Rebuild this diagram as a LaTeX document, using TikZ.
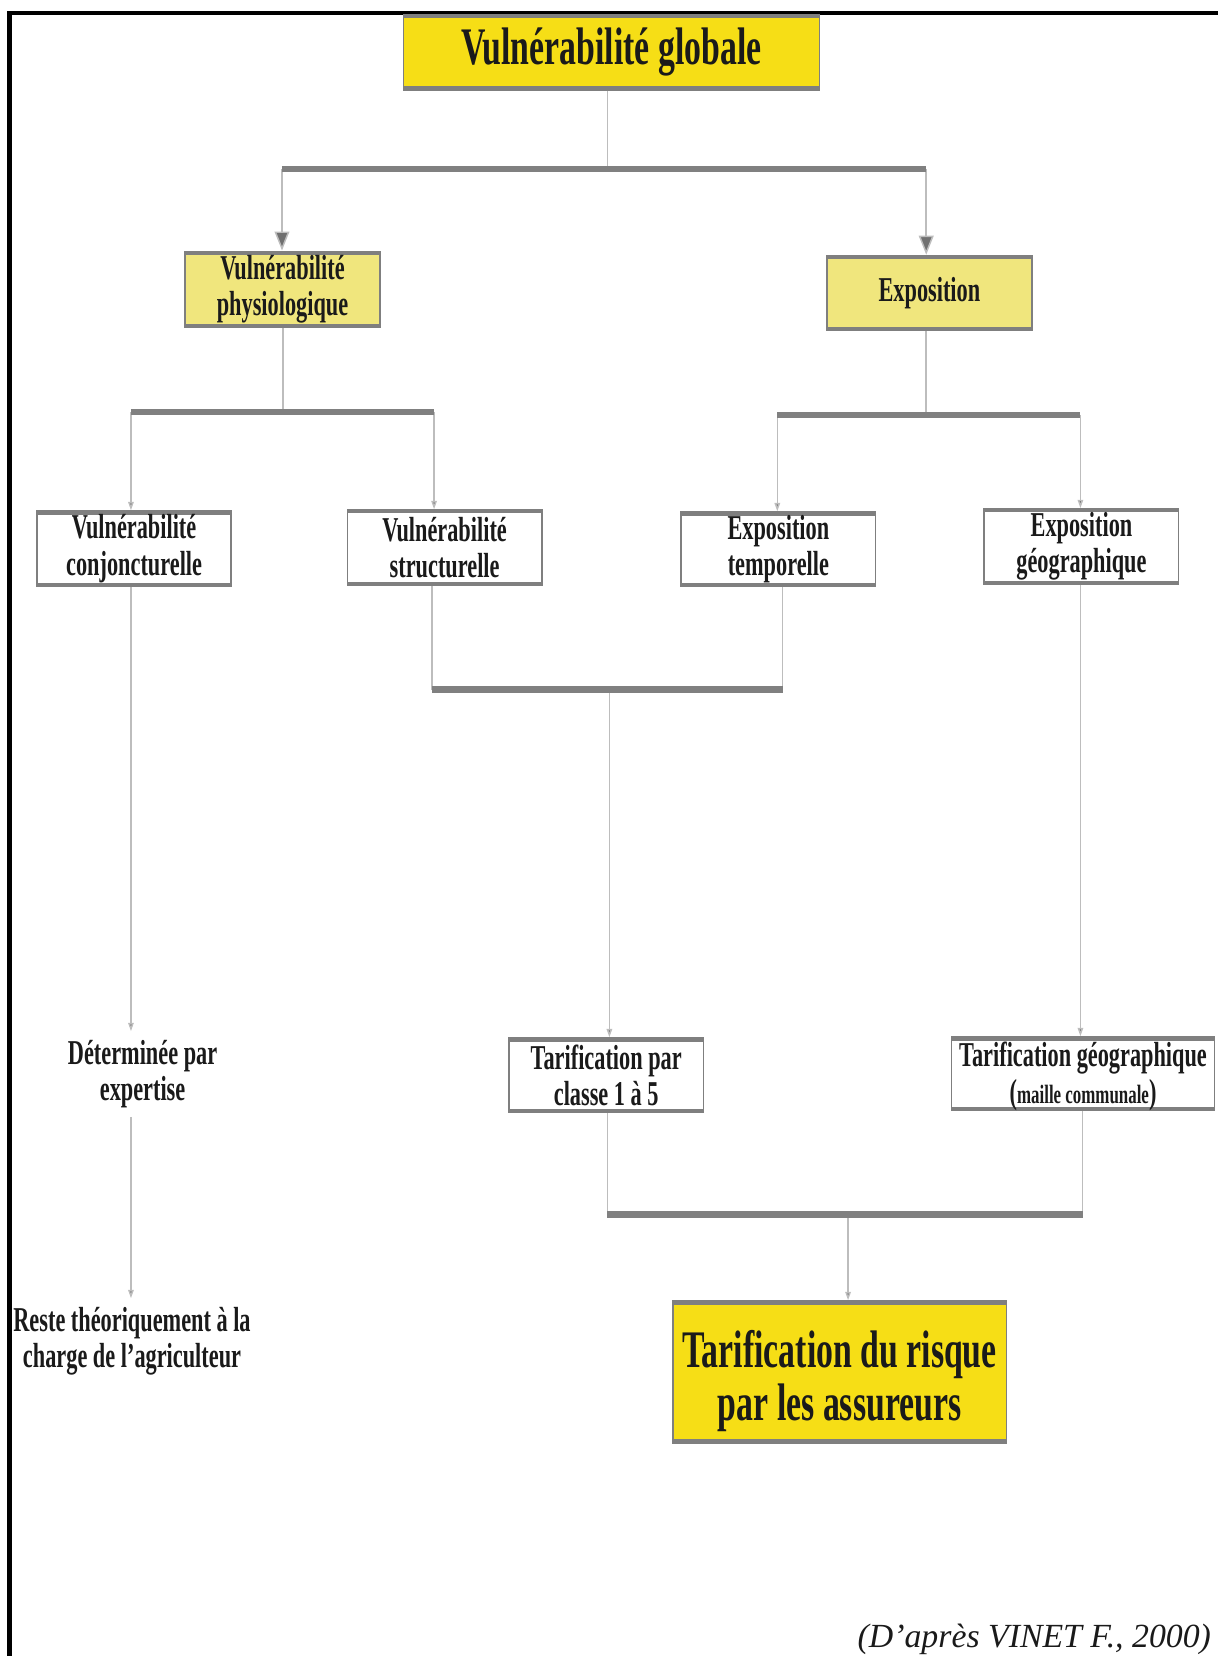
\documentclass[tikz,border=0pt]{standalone}
\usepackage{fontspec}
\setmainfont{Liberation Serif}[FakeStretch=0.64]
\newfontfamily\footfont{Liberation Serif}
\usetikzlibrary{arrows.meta}
\definecolor{ybright}{HTML}{F6DE16}
\definecolor{ylight}{HTML}{F0E67D}
\definecolor{bargray}{HTML}{808080}
\definecolor{linegray}{HTML}{BDBDBD}
\definecolor{boxgray}{HTML}{7F7F7F}
\definecolor{arrgray}{HTML}{707070}
\definecolor{txt}{HTML}{1A1A1A}
\newcommand\bigsz{\fontsize{25}{25}\selectfont}
\newcommand\midsz{\fontsize{16.5}{17.2}\selectfont}
\newcommand\smallsz{\fontsize{12.5}{12.5}\selectfont}
\newcommand\lowered[2]{\raisebox{#1}[\height][\depth]{\begin{tabular}{@{}c@{}}#2\end{tabular}}}
\begin{document}
\begin{tikzpicture}[x=0.5pt,y=-0.5pt,
  box/.style={draw=boxgray, line width=0.8pt, inner sep=0pt, align=center,
    font=\bfseries\midsz, text=txt,
    path picture={\draw[boxgray,line width=3.2pt]
      (path picture bounding box.north west)--(path picture bounding box.north east)
      (path picture bounding box.south west)--(path picture bounding box.south east);}},
  plain/.style={inner sep=4pt, align=center, font=\bfseries\midsz, text=txt},
  conn/.style={draw=linegray, line width=0.7pt},
  bar/.style={draw=bargray, line width=3pt},
  bigarrow/.style={-{Triangle[width=7pt,length=9pt,fill=arrgray]}},
  smallarrow/.style={-{Triangle[width=2.6pt,length=4pt,fill=arrgray]}}
]
\useasboundingbox (0,0) rectangle (1153,1568);
% frame
\draw[line width=1.9pt] (1153,12) -- (9,12) -- (9,1568);

% nodes
\node[box, fill=ybright, minimum width=197pt, minimum height=35.5pt, font=\bfseries\bigsz] (top) at (579,49.5) {Vulnérabilité globale};
\node[box, fill=ylight, minimum width=92.5pt, minimum height=36pt] (phys) at (267.5,274) {Vulnérabilité\\physiologique};
\node[box, fill=ylight, minimum width=97pt, minimum height=35.5pt] (expo) at (880,277.5) {Exposition};
\node[box, fill=white, minimum width=92pt, minimum height=35.5pt] (conj) at (127,519.5) {Vulnérabilité\\conjoncturelle};
\node[box, fill=white, minimum width=92pt, minimum height=35.5pt] (struct) at (421,518.5) {Vulnérabilité\\structurelle};
\node[box, fill=white, minimum width=92pt, minimum height=35pt] (temp) at (737,520) {Exposition\\temporelle};
\node[box, fill=white, minimum width=92pt, minimum height=35.5pt] (geo) at (1024,517.5) {Exposition\\géographique};
\node[box, fill=white, minimum width=92pt, minimum height=35pt] (classe) at (574,1018) {Tarification par\\classe 1 à 5};
\node[box, fill=white, minimum width=124.5pt, minimum height=34.5pt] (tgeo) at (1025.5,1016.5) {\lowered{-2pt}{Tarification géographique\\{\midsz(}{\smallsz maille communale}{\midsz)}}};
\node[box, fill=ybright, minimum width=158pt, minimum height=67pt, font=\bfseries\bigsz] (final) at (795,1299) {\lowered{-5.5pt}{Tarification du risque\\par les assureurs}};
\node[plain] (determ) at (135,1017) {Déterminée par\\expertise};
\node[plain] (reste) at (125,1270) {Reste théoriquement à la\\charge de l’agriculteur};
\node[anchor=east, inner sep=0pt, font=\footfont\itshape\fontsize{16}{16}\selectfont, text=txt] (src) at (1147,1552) {(D’après VINET F., 2000)};

% bar coordinates
\coordinate (b1m) at (575,160); \coordinate (b1l) at (267,160); \coordinate (b1r) at (877,160);
\coordinate (b2m) at (268,390); \coordinate (b2l) at (124,390); \coordinate (b2r) at (411,390);
\coordinate (b3m) at (877,393); \coordinate (b3l) at (736,393); \coordinate (b3r) at (1023,393);
\coordinate (b4l) at (409,653); \coordinate (b4r) at (741,653); \coordinate (b4m) at (577,653);
\coordinate (b5l) at (575,1150); \coordinate (b5r) at (1025,1150); \coordinate (b5m) at (803,1150);

% level 1
\draw[conn] (top.south -| b1m) -- (b1m);
\draw[conn, bigarrow] (b1l) -- (b1l |- phys.north);
\draw[conn, bigarrow] (b1r) -- (b1r |- expo.north);
\draw[bar] (b1l) -- (b1r);

% level 2
\draw[conn] (phys.south -| b2m) -- (b2m);
\draw[conn, smallarrow] (b2l) -- (b2l |- conj.north);
\draw[conn, smallarrow] (b2r) -- (b2r |- struct.north);
\draw[bar] (b2l) -- (b2r);
\draw[conn] (expo.south -| b3m) -- (b3m);
\draw[conn, smallarrow] (b3l) -- (b3l |- temp.north);
\draw[conn, smallarrow] (b3r) -- (b3r |- geo.north);
\draw[bar] (b3l) -- (b3r);

% level 3
\draw[conn] (struct.south -| b4l) -- (b4l);
\draw[conn] (temp.south -| b4r) -- (b4r);
\draw[conn, smallarrow] (b4m) -- (b4m |- classe.north);
\draw[bar] (b4l) -- (b4r);
\draw[conn, smallarrow] (conj.south -| b2l) -- (b2l |- determ.north);
\draw[conn, smallarrow] (determ.south -| b2l) -- (b2l |- reste.north);
\draw[conn, smallarrow] (geo.south -| b3r) -- (b3r |- tgeo.north);

% level 4
\draw[conn] (classe.south -| b5l) -- (b5l);
\draw[conn] (tgeo.south -| b5r) -- (b5r);
\draw[conn, smallarrow] (b5m) -- (b5m |- final.north);
\draw[bar] (b5l) -- (b5r);
\end{tikzpicture}
\end{document}
